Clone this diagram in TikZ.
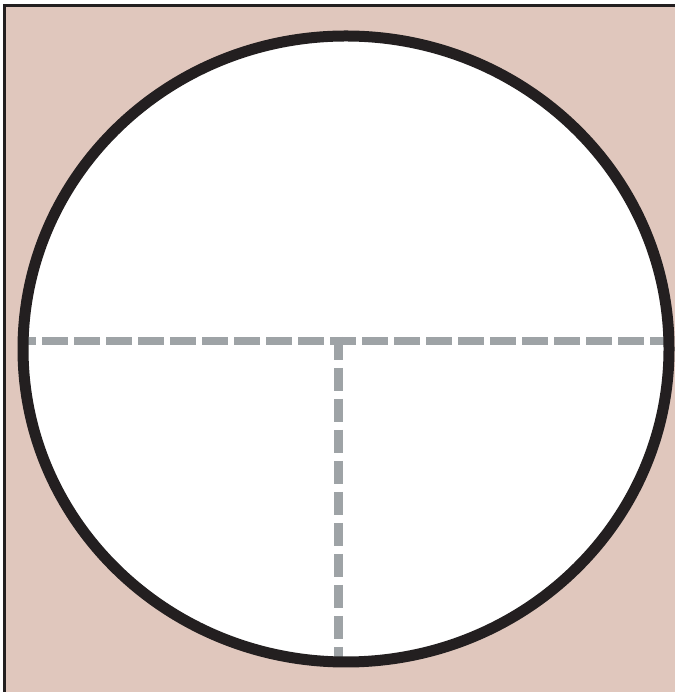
\documentclass[tikz,border=0pt]{standalone}
\definecolor{bgpink}{RGB}{224,199,189}
\definecolor{dashgray}{RGB}{158,163,166}
\definecolor{rimblack}{RGB}{35,31,32}
\tikzset{
  frameline/.style={draw=rimblack, line width=3pt},
  rim/.style={draw=rimblack, line width=11pt},
  guideh/.style={draw=dashgray, line width=8pt, dash pattern=on 26pt off 6pt},
  guidev/.style={draw=dashgray, line width=9pt, dash pattern=on 23pt off 8pt},
}
\begin{document}
\begin{tikzpicture}[x=1pt,y=1pt]
\useasboundingbox (0,0) rectangle (675,692);
% background square
\fill[bgpink] (4.5,0) rectangle (675,686);
\draw[frameline] (4.5,0) -- (4.5,686) -- (675,686);
% circle interior
\coordinate (c) at (346,343);
\fill[white] (c) ellipse [x radius=323, y radius=313];
% dashed guides, kept inside the circle
\coordinate (hl) at (10,351);
\coordinate (hr) at (672,351);
\coordinate (vt) at (338,355);
\coordinate (vb) at (338,20);
\begin{scope}
  \clip (c) ellipse [x radius=323, y radius=313];
  \draw[guideh] (hl) -- (hr);
  \draw[guidev] (vt) -- (vb);
\end{scope}
% rim
\draw[rim] (c) ellipse [x radius=323, y radius=313];
\end{tikzpicture}
\end{document}
